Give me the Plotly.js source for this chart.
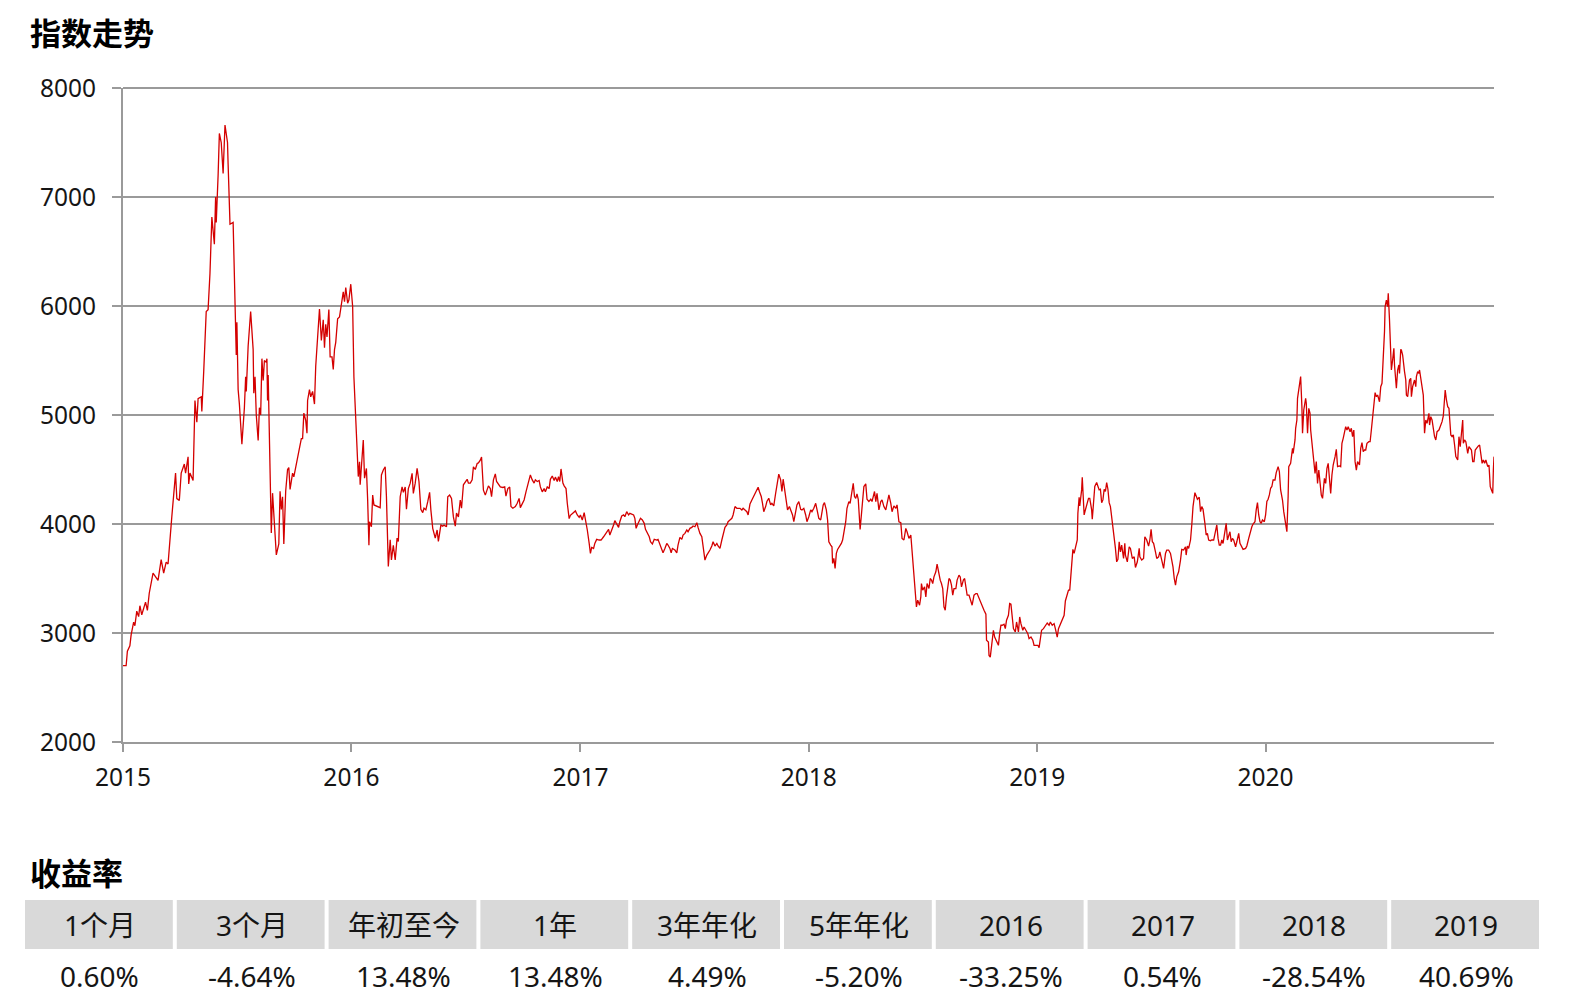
<!DOCTYPE html>
<html>
<head>
<meta charset="utf-8">
<script src="https://cdn.plot.ly/plotly-3.0.1.min.js"></script>
<style>
html,body{margin:0;padding:0;background:#ffffff;}
#chart{width:1571px;height:1007px;}
</style>
</head>
<body>
<div id="chart"></div>
<script>
// ---- Data: index level, per calendar year, as [day-of-year (0 = 1 Jan), value] ----
const y2015 = [[0,2700],[5,2700],[7,2833],[11,2883],[13,2983],[17,3100],[19,3067],[22,3200],[25,3150],[27,3250],[30,3167],[36,3283],[39,3207],[42,3367],[48,3550],[56,3483],[61,3673],[65,3550],[69,3650],[72,3633],[78,4067],[84,4467],[86,4233],[90,4217],[93,4467],[98,4550],[100,4467],[104,4617],[105,4367],[107,4467],[112,4400],[115,5133],[118,4933],[120,5150],[125,5167],[126,5033],[129,5400],[133,5950],[136,5967],[139,6300],[142,6817],[144,6650],[146,6567],[148,7000],[149,6767],[152,7200],[154,7583],[157,7500],[160,7217],[163,7660],[167,7500],[168,7300],[171,6750],[176,6767],[179,5833],[181,5550],[182,5850],[184,5233],[186,5100],[190,4733],[194,5067],[196,5350],[197,5217],[200,5633],[204,5950],[208,5600],[209,5200],[211,5350],[213,5000],[216,4767],[218,5067],[220,5000],[222,5517],[224,5317],[226,5500],[229,5483],[230,5517],[231,5133],[232,5367],[234,4700],[237,3917],[239,4283],[241,4117],[245,3717],[249,3817],[251,4300],[253,4133],[255,4250],[257,3817],[260,4300],[263,4500],[265,4517],[267,4317],[271,4467],[273,4433],[276,4533],[281,4667],[285,4783],[287,4783],[289,5017],[292,4950],[294,4833],[295,5133],[298,5233],[300,5167],[303,5217],[306,5100],[308,5450],[311,5767],[314,5973],[317,5683],[320,5873],[322,5617],[324,5833],[326,5717],[329,5967],[331,5533],[334,5533],[336,5417],[338,5600],[340,5667],[343,5883],[346,5900],[349,6040],[352,6130],[354,6040],[356,6170],[359,6025],[361,6055],[364,6200]];
const y2016 = [[2,5995],[4,5350],[5,5215],[7,4860],[10,4555],[11,4435],[13,4570],[14,4360],[16,4525],[19,4770],[21,4420],[24,4510],[26,4220],[28,3805],[29,4020],[32,3975],[34,4265],[36,4175],[46,4150],[48,4450],[51,4495],[54,4525],[56,4250],[59,3610],[62,3855],[64,3670],[67,3805],[70,3670],[73,3870],[75,3840],[78,4250],[81,4340],[83,4290],[86,4340],[88,4135],[91,4325],[94,4375],[97,4465],[99,4280],[102,4375],[105,4510],[108,4390],[111,4135],[114,4105],[116,4145],[119,4130],[122,4205],[125,4290],[127,4130],[130,3960],[134,3870],[137,3945],[139,3840],[143,3990],[146,3980],[148,3990],[152,3975],[154,4250],[157,4265],[160,4235],[163,4065],[166,3980],[168,4100],[171,4065],[174,4220],[176,4145],[179,4360],[182,4390],[185,4410],[187,4375],[190,4375],[193,4405],[195,4525],[198,4500],[201,4555],[203,4560],[206,4585],[208,4615],[211,4310],[214,4265],[216,4310],[219,4350],[222,4325],[224,4250],[227,4405],[230,4460],[232,4390],[235,4360],[238,4340],[242,4335],[245,4340],[247,4255],[250,4325],[253,4340],[255,4160],[258,4145],[262,4160],[265,4190],[268,4235],[270,4150],[273,4190],[276,4220],[279,4295],[283,4380],[286,4450],[289,4405],[292,4375],[294,4405],[297,4390],[300,4400],[302,4340],[305,4295],[308,4325],[310,4295],[313,4340],[316,4325],[318,4410],[321,4440],[324,4400],[326,4430],[329,4390],[331,4435],[333,4390],[335,4505],[338,4375],[340,4350],[343,4325],[345,4190],[348,4050],[350,4080],[356,4104],[358,4120],[361,4083],[364,4061]];
const y2017 = [[0,4083],[3,4037],[6,4104],[8,4043],[11,3945],[14,3822],[16,3730],[18,3785],[21,3776],[23,3822],[26,3859],[30,3853],[33,3853],[37,3883],[39,3899],[42,3929],[45,3951],[47,3899],[50,3939],[53,3991],[55,4031],[58,4000],[61,3969],[63,4021],[66,4074],[69,4083],[71,4067],[74,4113],[77,4083],[79,4098],[82,4092],[85,4083],[87,4052],[89,3960],[91,3991],[94,4021],[96,4052],[99,4037],[102,4006],[104,3951],[107,3914],[110,3883],[112,3837],[115,3816],[118,3859],[122,3853],[124,3859],[127,3807],[130,3767],[132,3736],[135,3776],[138,3822],[140,3807],[143,3776],[145,3736],[147,3776],[151,3761],[154,3736],[156,3807],[159,3877],[162,3859],[164,3899],[167,3914],[170,3945],[172,3929],[175,3960],[178,3969],[180,3982],[183,3975],[186,4012],[188,3969],[191,3914],[194,3883],[196,3807],[199,3669],[202,3715],[204,3730],[207,3761],[210,3798],[212,3837],[215,3798],[218,3822],[220,3798],[223,3776],[226,3853],[228,3908],[231,3969],[234,3991],[236,4021],[239,4037],[242,4052],[244,4083],[247,4160],[250,4144],[252,4144],[255,4144],[258,4129],[260,4144],[263,4129],[266,4113],[268,4083],[271,4184],[274,4221],[276,4245],[279,4276],[282,4313],[284,4337],[286,4298],[289,4252],[291,4190],[293,4113],[296,4160],[298,4206],[301,4236],[304,4175],[306,4190],[309,4166],[312,4282],[314,4374],[317,4457],[320,4405],[322,4298],[324,4411],[326,4328],[329,4190],[331,4129],[334,4160],[337,4113],[339,4083],[341,4021],[344,4113],[346,4175],[349,4206],[352,4135],[354,4129],[357,4144],[360,4083],[362,4021]];
const y2018 = [[0,4067],[3,4129],[5,4113],[8,4144],[11,4190],[13,4129],[16,4052],[19,4037],[21,4135],[23,4175],[25,4196],[28,4129],[30,4037],[32,3837],[35,3807],[37,3791],[38,3638],[40,3684],[42,3592],[44,3730],[46,3767],[49,3791],[52,3822],[54,3853],[57,3945],[59,4021],[61,4144],[62,4160],[64,4206],[66,4190],[68,4267],[69,4328],[71,4374],[73,4252],[75,4236],[77,4276],[79,4227],[82,3951],[84,4083],[86,4221],[88,4344],[91,4368],[93,4227],[96,4206],[99,4227],[101,4206],[103,4267],[105,4298],[107,4206],[109,4282],[112,4129],[115,4206],[117,4221],[120,4160],[123,4129],[125,4190],[128,4267],[131,4190],[133,4113],[136,4166],[139,4144],[141,4175],[144,4021],[147,4012],[149,3868],[152,3853],[155,3960],[157,3929],[160,3868],[163,3899],[165,3761],[168,3546],[171,3362],[172,3239],[174,3301],[177,3255],[179,3331],[180,3454],[182,3393],[185,3423],[187,3331],[189,3454],[192,3408],[194,3500],[196,3485],[198,3454],[200,3515],[203,3561],[205,3632],[208,3531],[210,3485],[212,3454],[214,3408],[216,3239],[218,3209],[220,3331],[222,3408],[224,3500],[226,3485],[228,3439],[230,3347],[232,3408],[235,3408],[237,3485],[240,3531],[242,3515],[244,3423],[247,3485],[249,3500],[251,3408],[253,3347],[256,3347],[259,3285],[261,3255],[264,3347],[267,3362],[269,3362],[272,3316],[275,3276],[277,3239],[280,3209],[283,3172],[284,2933],[287,2917],[288,2794],[290,2779],[292,2887],[295,3025],[297,2963],[300,2917],[303,2887],[305,2994],[307,3071],[309,3071],[312,3080],[314,3040],[316,3117],[319,3163],[321,3270],[323,3264],[325,3147],[327,3040],[330,3010],[332,3101],[335,3010],[337,3147],[339,3086],[342,3025],[344,3055],[347,3025],[350,2994],[352,2948],[355,2963],[358,2933],[360,2887],[363,2887]];
const y2019 = [[1,2887],[3,2865],[5,2933],[7,3025],[10,3040],[12,3061],[16,3092],[19,3071],[21,3101],[24,3071],[27,3086],[29,3040],[32,2963],[34,3040],[37,3086],[43,3163],[45,3294],[48,3362],[50,3393],[52,3393],[55,3592],[57,3767],[59,3730],[61,3791],[64,3853],[65,4098],[67,4245],[68,4166],[71,4313],[72,4429],[74,4175],[75,4083],[77,4129],[80,4190],[82,4236],[84,4236],[87,4129],[88,4043],[90,4190],[92,4344],[95,4380],[97,4350],[99,4313],[101,4319],[103,4196],[105,4221],[107,4319],[109,4298],[111,4380],[113,4319],[115,4196],[117,4160],[120,4021],[123,3914],[125,3776],[127,3653],[129,3675],[131,3837],[133,3745],[135,3807],[138,3684],[140,3822],[141,3715],[144,3653],[147,3791],[149,3776],[152,3684],[155,3699],[157,3601],[160,3653],[163,3776],[164,3699],[167,3669],[170,3684],[172,3883],[175,3853],[178,3798],[180,3853],[182,3951],[184,3837],[186,3822],[189,3745],[191,3684],[194,3699],[196,3745],[199,3669],[202,3592],[205,3730],[207,3761],[210,3761],[213,3730],[215,3669],[217,3607],[219,3500],[221,3439],[223,3515],[226,3561],[229,3669],[231,3767],[234,3761],[237,3791],[238,3715],[240,3798],[242,3776],[245,3853],[247,3991],[249,4160],[252,4288],[254,4252],[256,4227],[259,4245],[261,4113],[263,4160],[265,4135],[268,4006],[270,3899],[272,3914],[274,3853],[277,3847],[279,3853],[282,3853],[285,3945],[287,3991],[289,3868],[291,3807],[293,3807],[295,3853],[297,3822],[300,3914],[302,4006],[304,3853],[306,3899],[308,3929],[310,3837],[312,3868],[314,3853],[317,3791],[319,3837],[322,3914],[324,3822],[327,3791],[329,3767],[333,3776],[335,3798],[338,3868],[341,3945],[343,3975],[345,4000],[348,4021],[350,4129],[352,4196],[354,4083],[356,4021],[358,4006],[360,4037],[363,4021]];
const y2020 = [[0,4083],[2,4206],[4,4227],[6,4267],[8,4328],[10,4344],[12,4405],[15,4404],[17,4471],[20,4526],[22,4480],[24,4312],[27,4220],[29,4113],[32,4006],[34,3930],[36,4251],[37,4526],[40,4557],[43,4694],[44,4648],[47,4771],[48,4878],[50,4954],[51,5153],[53,5229],[56,5352],[58,5076],[59,4832],[61,5046],[64,5153],[65,5107],[67,4832],[69,5061],[71,5015],[72,4862],[75,4709],[77,4572],[79,4465],[81,4572],[83,4373],[85,4495],[87,4404],[89,4266],[91,4235],[94,4419],[96,4373],[98,4511],[100,4557],[102,4404],[104,4281],[106,4450],[108,4541],[111,4618],[113,4685],[115,4526],[118,4532],[120,4526],[122,4740],[124,4786],[126,4838],[128,4893],[130,4862],[132,4893],[135,4847],[137,4878],[139,4801],[141,4862],[143,4572],[145,4495],[147,4572],[150,4541],[152,4694],[154,4746],[156,4664],[158,4679],[160,4679],[162,4740],[165,4755],[167,4755],[169,4862],[171,4985],[173,5061],[175,5205],[177,5168],[179,5183],[182,5122],[184,5260],[186,5291],[188,5489],[190,5765],[191,5994],[193,6055],[195,5994],[196,6116],[198,5872],[200,5443],[201,5413],[203,5505],[205,5612],[206,5459],[208,5260],[209,5245],[211,5413],[213,5459],[214,5382],[216,5602],[217,5596],[219,5550],[221,5413],[222,5398],[224,5321],[225,5183],[227,5168],[229,5260],[230,5321],[232,5336],[233,5168],[235,5260],[237,5291],[238,5321],[240,5260],[241,5352],[243,5398],[245,5382],[246,5413],[248,5336],[250,5275],[252,5183],[254,4832],[256,4954],[258,4924],[261,5015],[262,4908],[264,4985],[266,4954],[268,4847],[270,4801],[272,4771],[274,4847],[277,4862],[279,4893],[282,4939],[284,4991],[286,5122],[287,5229],[289,5138],[291,5076],[293,5061],[294,4985],[296,4817],[298,4801],[300,4817],[302,4725],[304,4618],[307,4587],[309,4801],[311,4709],[313,4847],[315,4954],[316,4740],[318,4771],[320,4755],[323,4648],[325,4709],[327,4694],[329,4679],[331,4572],[333,4572],[335,4679],[338,4709],[340,4716],[342,4725],[344,4648],[346,4557],[348,4587],[350,4557],[352,4587],[355,4526],[357,4541],[359,4343],[361,4312],[363,4281],[364,4495],[365,4618]];

const yearLabels = ['2015','2016','2017','2018','2019','2020'];
const yTickValues = [2000,3000,4000,5000,6000,7000,8000];
const yMin = 2000, yMax = 8000;

const chartTitle = '指数走势';
const tableTitle = '收益率';
const returnLabels = ['1个月','3个月','年初至今','1年','3年年化','5年年化','2016','2017','2018','2019'];
const returnValues = ['0.60%','-4.64%','13.48%','13.48%','4.49%','-5.20%','-33.25%','0.54%','-28.54%','40.69%'];

// ---- Build series ----
const seriesByYear = [[2015,y2015],[2016,y2016],[2017,y2017],[2018,y2018],[2019,y2019],[2020,y2020]];
const xs = [], ys = [];
seriesByYear.forEach(([yr, pairs]) => {
  pairs.forEach(([doy, v]) => {
    const d = new Date(Date.UTC(yr, 0, 1 + doy));
    xs.push(d.toISOString().slice(0, 10));
    ys.push(v);
  });
});

// ---- Layout geometry (pixels) ----
const W = 1571, H = 1007;
const PL = 123, PR = 1494, PT = 88, PB = 742;
const px2x = p => (p - PL) / (PR - PL);
const px2y = p => (PB - p) / (PB - PT);

const FONT_NUM = '"Noto Sans", "Noto Sans CJK SC", sans-serif';
const FONT_CJK = '"Noto Sans CJK SC", "Noto Sans", sans-serif';
const TXT = '#151515';
const GRID = '#9a9a9a';

const shapes = [];
const annotations = [];

// top gridline at the upper edge of the value range (paper-referenced so it is not clipped)
shapes.push({type:'line', xref:'paper', yref:'paper', x0:0, x1:1, y0:1, y1:1,
  line:{color: GRID, width: 2}, layer:'below'});

annotations.push({
  xref:'paper', yref:'paper', x: px2x(28), y: px2y(32),
  xanchor:'left', yanchor:'middle', showarrow:false,
  text: chartTitle, font:{family: FONT_CJK, size: 31, color:'#000', weight: 700}
});
annotations.push({
  xref:'paper', yref:'paper', x: px2x(28), y: px2y(871),
  xanchor:'left', yanchor:'middle', showarrow:false,
  text: tableTitle, font:{family: FONT_CJK, size: 31, color:'#000', weight: 700}
});

// table of returns
const tblL = 25, tblR = 1539, gap = 4, hdrT = 900, hdrB = 949;
const n = returnLabels.length;
const cw = (tblR - tblL - gap * (n - 1)) / n;
returnLabels.forEach((lab, i) => {
  const x0 = tblL + i * (cw + gap), x1 = x0 + cw, xc = (x0 + x1) / 2;
  shapes.push({type:'rect', xref:'paper', yref:'paper', x0: px2x(x0), x1: px2x(x1),
    y0: px2y(hdrB), y1: px2y(hdrT), fillcolor:'#d9d9d9', line:{width:0}, layer:'below'});
  annotations.push({xref:'paper', yref:'paper', x: px2x(xc + 1), y: px2y(925),
    xanchor:'center', yanchor:'middle', showarrow:false, text: lab,
    font:{family: FONT_NUM, size: 28, color: TXT}});
  annotations.push({xref:'paper', yref:'paper', x: px2x(xc + 1), y: px2y(976),
    xanchor:'center', yanchor:'middle', showarrow:false, text: returnValues[i],
    font:{family: FONT_NUM, size: 28, color: TXT}});
});

const trace = {
  type:'scatter', mode:'lines', x: xs, y: ys,
  line:{color:'#d40000', width:1.3},
  hoverinfo:'skip', showlegend:false
};

const layout = {
  width: W, height: H,
  margin:{l: PL, r: W - PR, t: PT, b: H - PB, pad: 0},
  paper_bgcolor:'#ffffff', plot_bgcolor:'#ffffff',
  font:{family: FONT_NUM, color: TXT},
  showlegend:false,
  xaxis:{
    type:'date', range:['2015-01-01','2020-12-31'],
    tickvals: yearLabels.map(y => y + '-01-01'), ticktext: yearLabels,
    ticks:'outside', ticklen: 8, tickwidth: 2, tickcolor: GRID,
    showline:true, linecolor: GRID, linewidth: 2,
    showgrid:false, zeroline:false,
    tickfont:{family: FONT_NUM, size: 24.5, color: TXT},
    ticklabelstandoff: 5,
    fixedrange:true
  },
  yaxis:{
    range:[yMin, yMax], tickvals: yTickValues,
    ticks:'outside', ticklen: 9, tickwidth: 2, tickcolor: GRID,
    showline:true, linecolor: GRID, linewidth: 2,
    showgrid:true, gridcolor: GRID, gridwidth: 2,
    zeroline:false,
    tickfont:{family: FONT_NUM, size: 24.5, color: TXT},
    ticklabelstandoff: 11,
    fixedrange:true
  },
  shapes: shapes,
  annotations: annotations
};

Plotly.newPlot('chart', [trace], layout, {displayModeBar:false, staticPlot:true});
</script>
</body>
</html>
